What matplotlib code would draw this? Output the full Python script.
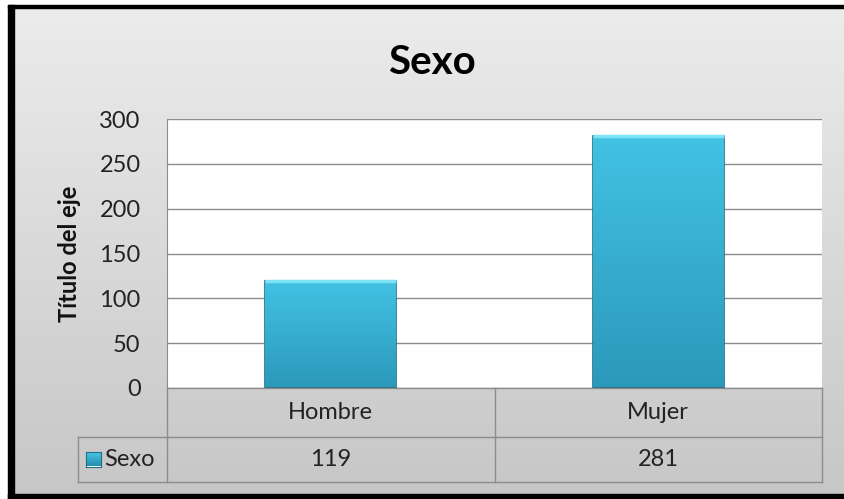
import numpy as np
import matplotlib
matplotlib.use("Agg")
import matplotlib.pyplot as plt
from matplotlib.patches import Rectangle
from matplotlib.lines import Line2D

categories = ["Hombre", "Mujer"]
values = [119, 281]
series_name = "Sexo"
title = "Sexo"
ylabel = "Título del eje"
yticks = [0, 50, 100, 150, 200, 250, 300]

W, H = 844, 499
fig = plt.figure(figsize=(W / 100, H / 100), dpi=100)
FONT = ["Lato", "DejaVu Sans"]

def fx(x):
    return x / W

def fy(y):
    return 1 - y / H

# background axes
bg = fig.add_axes([0, 0, 1, 1], zorder=-10)
bg.set_xlim(0, W)
bg.set_ylim(H, 0)
bg.axis("off")
grad = np.linspace(0, 1, 256).reshape(-1, 1)
top_c = np.array([0.925, 0.925, 0.925])
bot_c = np.array([0.78, 0.78, 0.78])
img = top_c[None, None, :] * (1 - grad[:, :, None]) + bot_c[None, None, :] * grad[:, :, None]
bg.imshow(img, extent=[12, 844, 494, 8], aspect="auto", zorder=0)
# frame (top thin, left & bottom thick)
bg.add_patch(Rectangle((8, 5), 836, 3, color="black", zorder=3))
bg.add_patch(Rectangle((8, 5), 6, 494, color="black", zorder=3))
bg.add_patch(Rectangle((8, 494), 836, 5, color="black", zorder=3))

# plot area
L, R, T, B = 167, 822, 119, 388
ax = fig.add_axes([fx(L), fy(B), fx(R) - fx(L), fy(T) - fy(B)])
ax.set_facecolor("white")
ax.set_ylim(0, 300)
ax.set_xlim(-0.5, len(categories) - 0.5)
ax.set_yticks(yticks)
ax.set_yticklabels([str(t) for t in yticks], fontsize=17, color="#222222", family=FONT)
ax.tick_params(axis="y", length=0, pad=19)
ax.set_xticks([])
ax.yaxis.grid(True, color="#8c8c8c", lw=1)
ax.set_axisbelow(True)
for s in ["top", "right", "bottom"]:
    ax.spines[s].set_visible(False)
ax.spines["left"].set_color("#8c8c8c")
ax.set_ylabel(ylabel, fontsize=17, fontweight="bold", family=FONT, labelpad=13, color="#111111")

x = np.arange(len(categories))
bars = ax.bar(x, values, width=0.40, color="#3ab5d8", edgecolor="#1d6f86", lw=1.2, zorder=3)
# gradient shading (light top, darker bottom)
for b in bars:
    x0, y0 = b.get_x(), b.get_y()
    w, h = b.get_width(), b.get_height()
    g = np.linspace(0, 1, 100).reshape(-1, 1)
    c1 = np.array([0.26, 0.76, 0.89])
    c2 = np.array([0.17, 0.60, 0.73])
    im = c1[None, None, :] * (1 - g[:, :, None]) + c2[None, None, :] * g[:, :, None]
    ai = ax.imshow(im, extent=[x0, x0 + w, y0, y0 + h], aspect="auto", zorder=3.5)
    ai.set_clip_path(b)
    ax.plot([x0, x0 + w], [y0 + h, y0 + h], color="#7fe3f7", lw=2.5, zorder=4,
            solid_capstyle="butt")
    ax.plot([x0, x0 + w], [y0, y0], color="#1a6579", lw=2, zorder=4,
            solid_capstyle="butt")
ax.set_xlim(-0.5, len(categories) - 0.5)
ax.set_ylim(0, 300)

# title
fig.text(fx(432), fy(62), title, fontsize=29, fontweight="bold", ha="center", va="center",
         family=FONT, color="black")

# data table
lc = "#8c8c8c"
row1_top, row1_bot, row2_bot = 388, 437, 482
lab_left = 78
ncat = len(categories)
col_edges = [L + (R - L) * i / ncat for i in range(ncat + 1)]

def hline(x0, x1, y):
    fig.add_artist(Line2D([fx(x0), fx(x1)], [fy(y), fy(y)], color=lc, lw=1))

def vline(x, y0, y1):
    fig.add_artist(Line2D([fx(x), fx(x)], [fy(y0), fy(y1)], color=lc, lw=1))

hline(L, R, row1_top)
hline(lab_left, R, row1_bot)
hline(lab_left, R, row2_bot)
for ce in col_edges:
    vline(ce, row1_top, row2_bot)
vline(lab_left, row1_bot, row2_bot)

for i, cat in enumerate(categories):
    cx = (col_edges[i] + col_edges[i + 1]) / 2
    fig.text(fx(cx), fy((row1_top + row1_bot) / 2), cat, fontsize=17, ha="center", va="center",
             family=FONT, color="#222222")
    fig.text(fx(cx), fy((row1_bot + row2_bot) / 2), str(values[i]), fontsize=17, ha="center",
             va="center", family=FONT, color="#222222")

# legend key in table
ym = (row1_bot + row2_bot) / 2
key_grad = ax.figure.add_axes([fx(86), fy(ym + 7), fx(15), fx(15) * W / H], zorder=5)
kg = np.linspace(0, 1, 50).reshape(-1, 1)
c1 = np.array([0.30, 0.80, 0.93])
c2 = np.array([0.15, 0.55, 0.68])
key_grad.imshow(c1[None, None, :] * (1 - kg[:, :, None]) + c2[None, None, :] * kg[:, :, None],
                aspect="auto")
key_grad.set_xticks([])
key_grad.set_yticks([])
for s in key_grad.spines.values():
    s.set_color("#1d6f86")
fig.text(fx(104), fy(ym), series_name, fontsize=17, ha="left", va="center", family=FONT,
         color="#222222")

fig.savefig("out.png", dpi=100)
